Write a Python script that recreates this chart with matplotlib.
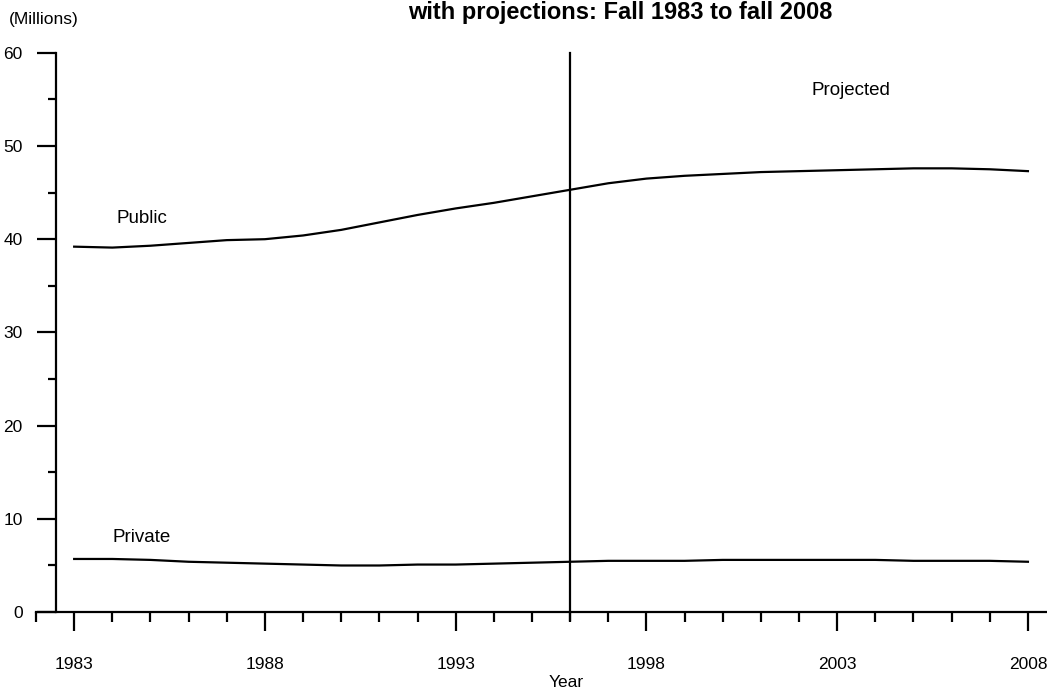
from matplotlib import pyplot as plt
from matplotlib.ticker import MultipleLocator
import numpy as np

plt.rcParams['font.family'] = ['Liberation Sans', 'DejaVu Sans']

years = list(range(1983, 2009))
public = [39.2, 39.1, 39.3, 39.6, 39.9, 40.0, 40.4, 41.0, 41.8, 42.6,
          43.3, 43.9, 44.6, 45.3, 46.0, 46.5, 46.8, 47.0, 47.2, 47.3,
          47.4, 47.5, 47.6, 47.6, 47.5, 47.3]
private = [5.7, 5.7, 5.6, 5.4, 5.3, 5.2, 5.1, 5.0, 5.0, 5.1,
           5.1, 5.2, 5.3, 5.4, 5.5, 5.5, 5.5, 5.6, 5.6, 5.6,
           5.6, 5.6, 5.5, 5.5, 5.5, 5.4]
major_years = [1983, 1988, 1993, 1998, 2003, 2008]
proj_start = 1996

fig = plt.figure(figsize=(10.47, 6.94), dpi=100)
ax = fig.add_axes([0.0344, 0.118, 0.9656, 0.806])

ax.plot(years, public, color='black', lw=1.6)
ax.plot(years, private, color='black', lw=1.6)
ax.axvline(proj_start, ymin=-0.015, ymax=1.0, color='black', lw=1.6, clip_on=False)

ax.set_xlim(1982.0, 2008.5)
ax.set_ylim(0, 60)
ax.spines['left'].set_position(('data', 1982.52))
ax.spines['top'].set_visible(False)
ax.spines['right'].set_visible(False)
for s in ['left', 'bottom']:
    ax.spines[s].set_linewidth(1.6)

ax.set_xticks(major_years)
ax.xaxis.set_minor_locator(MultipleLocator(1))
ax.yaxis.set_major_locator(MultipleLocator(10))
ax.yaxis.set_minor_locator(MultipleLocator(5))
ax.tick_params(axis='x', which='major', length=14, width=1.6, pad=18, labelsize=12.5)
ax.tick_params(axis='x', which='minor', length=7, width=1.6)
ax.tick_params(axis='y', which='major', length=14, width=1.6, pad=10, labelsize=12.5)
ax.tick_params(axis='y', which='minor', length=6, width=1.6)

ax.text(1984.1, 42.2, 'Public', fontsize=13.5, va='center')
ax.text(1984.0, 8.0, 'Private', fontsize=13.5, va='center')
ax.text(2003.35, 56.0, 'Projected', fontsize=13.5, ha='center', va='center')

fig.text(0.008, 0.972, '(Millions)', fontsize=12.5, va='center')
fig.text(0.541, 0.016, 'Year', fontsize=12.5, ha='center', va='center')
fig.text(0.592, 0.998, 'with projections: Fall 1983 to fall 2008',
         fontsize=17, fontweight='bold', ha='center', va='top')

fig.savefig('out.png', dpi=100)
